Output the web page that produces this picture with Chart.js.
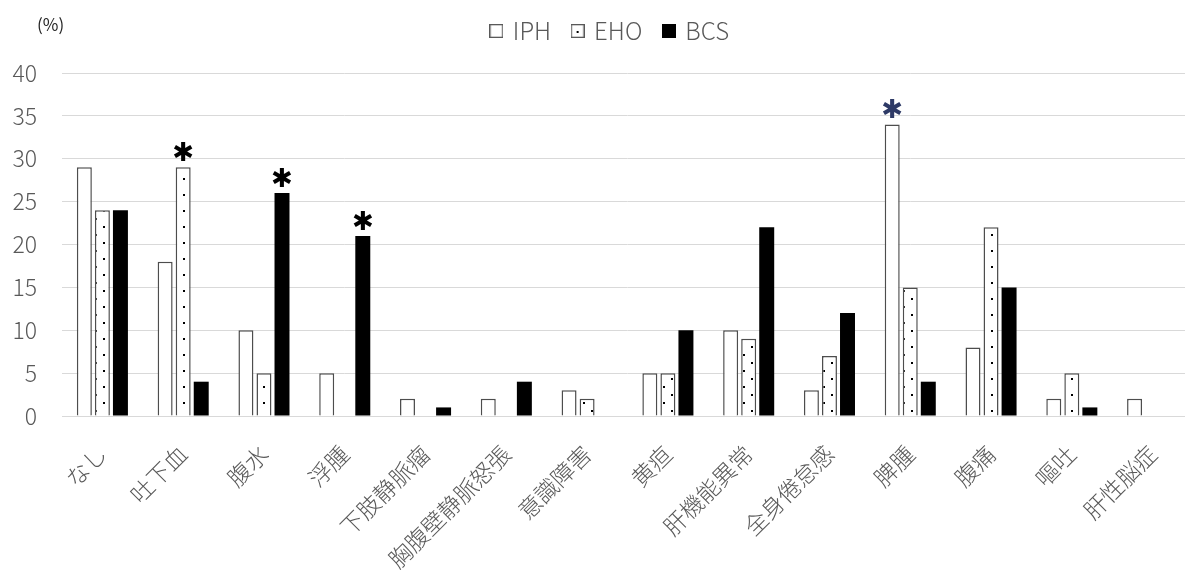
<!DOCTYPE html>
<html><head><meta charset="utf-8">
<script src="https://cdn.jsdelivr.net/npm/chart.js@4/dist/chart.umd.min.js"></script>
<style>html,body{margin:0;padding:0;background:#fff;overflow:hidden;}#wrap{position:relative;width:1200px;height:574px;}</style>
</head><body><div id="wrap"><canvas id="c" width="1200" height="574"></canvas></div>
<script>
const categories = ['なし','吐下血','腹水','浮腫','下肢静脈瘤','胸腹壁静脈怒張','意識障害','黄疸','肝機能異常','全身倦怠感','脾腫','腹痛','嘔吐','肝性脳症'];
const seriesNames = ['IPH','EHO','BCS'];
const iphValues = [29,18,10,5,2,2,3,5,10,3,34,8,2,2];
const ehoValues = [24,29,5,0,0,0,2,5,9,7,15,22,5,0];
const bcsValues = [24,4,26,21,1,4,0,10,22,12,4,15,1,0];
const yTickValues = [0,5,10,15,20,25,30,35,40];
const unitLabel = '(%)';
const markSeries = [1,2,2,0];
const markCategories = [1,2,3,10];
const markColors = ['#000000','#000000','#000000','#2E3A66'];

const FONT = '"Noto Sans CJK JP", "Noto Sans", sans-serif';

function dotPattern(){
  const c = document.createElement('canvas');
  c.width = 16; c.height = 16;
  const g = c.getContext('2d');
  g.fillStyle = '#ffffff'; g.fillRect(0,0,16,16);
  g.fillStyle = '#000000';
  g.fillRect(7,2,2,2);
  g.fillRect(15,10,2,2);
  g.fillRect(-1,10,2,2);
  return g.createPattern(c,'repeat');
}
function legendBox(kind){
  const c = document.createElement('canvas');
  c.width = 14; c.height = 14;
  const g = c.getContext('2d');
  if (kind === 2){
    g.fillStyle = '#000000'; g.fillRect(0,0,14,14);
  } else {
    g.fillStyle = '#ffffff'; g.fillRect(0,0,14,14);
    g.strokeStyle = '#595959'; g.lineWidth = 1.3;
    g.strokeRect(0.65,0.65,12.7,12.7);
    if (kind === 1){ g.fillStyle = '#000000'; g.fillRect(6,7,2,2); }
  }
  return c;
}
const legendBoxes = [legendBox(0), legendBox(1), legendBox(2)];
const ctx = document.getElementById('c').getContext('2d');
const pat = dotPattern();

const legendFix = {
  id:'legendFix',
  beforeInit(chart){
    const fit = chart.legend.fit;
    chart.legend.fit = function(){ fit.call(this); this.height = 73; };
  },
  afterLayout(chart){
    const lg = chart.legend;
    lg.left += 14; lg.right += 14;
    lg.top -= 3; lg.bottom -= 3;
    if (lg.adjustHitBoxes) lg.adjustHitBoxes();
  }
};
const marks = {
  id:'marks',
  afterDatasetsDraw(chart){
    const c = chart.ctx;
    c.save();
    c.textAlign = 'center'; c.textBaseline = 'middle';
    c.font = 'bold 26px "DejaVu Sans"';
    for (let k=0;k<markSeries.length;k++){
      const el = chart.getDatasetMeta(markSeries[k]).data[markCategories[k]];
      c.fillStyle = markColors[k];
      c.fillText('✱', el.x, el.y - 13);
    }
    c.restore();
  }
};
const unit = {
  id:'unit',
  afterDraw(chart){
    const c = chart.ctx;
    c.save();
    c.font = '17px ' + FONT;
    c.fillStyle = '#262626';
    c.textAlign = 'left'; c.textBaseline = 'middle';
    c.fillText(unitLabel, 37, 25);
    c.restore();
  }
};

new Chart(ctx, {
  type:'bar',
  data:{
    labels: categories,
    datasets:[
      {label:seriesNames[0], data:iphValues, backgroundColor:'#ffffff', borderColor:'#4d4d4d', borderWidth:1.5},
      {label:seriesNames[1], data:ehoValues, backgroundColor:pat, borderColor:'#4d4d4d', borderWidth:1.5},
      {label:seriesNames[2], data:bcsValues, backgroundColor:'#000000', borderColor:'#000000', borderWidth:0}
    ]
  },
  options:{
    responsive:false,
    animation:false,
    devicePixelRatio:1,
    categoryPercentage:0.67,
    barPercentage:0.83,
    layout:{padding:{left:0,right:7,top:0,bottom:0}},
    plugins:{
      legend:{
        position:'top',
        labels:{
          boxWidth:9, boxHeight:9, padding:22, usePointStyle:true,
          color:'#595959', font:{family:FONT, size:24, weight:300},
          generateLabels(chart){
            const items = Chart.defaults.plugins.legend.labels.generateLabels(chart);
            items.forEach((it,i)=>{ it.pointStyle = legendBoxes[i]; });
            return items;
          }
        }
      },
      tooltip:{enabled:false}
    },
    scales:{
      x:{
        grid:{display:false, drawTicks:false},
        border:{display:true, color:'#d9d9d9', width:1},
        ticks:{color:'#595959', font:{family:FONT, size:23, weight:300}, maxRotation:45, minRotation:45, padding:24, autoSkip:false},
        afterFit(s){ s.height = 158; }
      },
      y:{
        min:0, max:40,
        grid:{color:'#d9d9d9', drawTicks:false, lineWidth:1},
        border:{display:false},
        ticks:{color:'#595959', font:{family:FONT, size:23, weight:300}, padding:25},
        afterBuildTicks(s){ s.ticks = yTickValues.map(v=>({value:v})); },
        afterFit(s){ s.width = 62; }
      }
    }
  },
  plugins:[legendFix, marks, unit]
});
</script>
</body></html>
